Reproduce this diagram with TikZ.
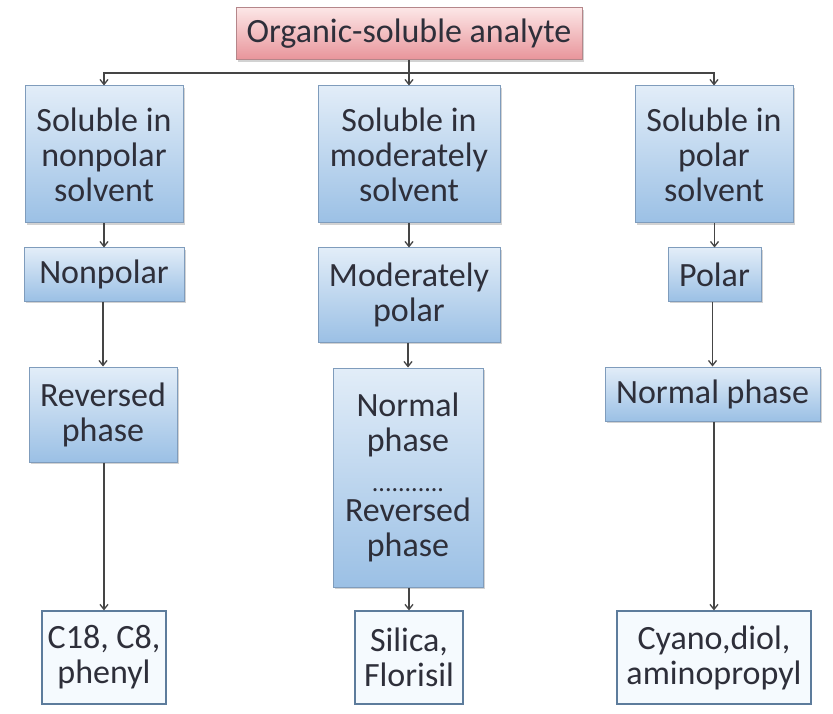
\documentclass[tikz,border=0pt]{standalone}
\usepackage{fontspec}
\setmainfont{Carlito}
\usetikzlibrary{arrows.meta,shadows}
\definecolor{txt}{HTML}{2E2F3A}
\definecolor{boxtop}{HTML}{E2EDF8}
\definecolor{boxbot}{HTML}{9BC0E5}
\definecolor{boxedge}{HTML}{7F9CBC}
\definecolor{pinktop}{HTML}{FCE6E6}
\definecolor{pinkbot}{HTML}{E8949A}
\definecolor{pinkedge}{HTML}{B5868A}
\definecolor{leafedge}{HTML}{5D7C9C}
\definecolor{leaffill}{HTML}{F5FAFE}
\definecolor{wire}{HTML}{454545}
\tikzset{
  base/.style={rectangle, inner sep=0pt, align=center, text=txt,
    font=\fontsize{34}{35}\selectfont, line width=1pt},
  bluebox/.style={base, draw=boxedge, top color=boxtop, bottom color=boxbot,
    drop shadow={opacity=0.35, shadow xshift=2pt, shadow yshift=-2pt}},
  pinkbox/.style={base, draw=pinkedge, top color=pinktop, bottom color=pinkbot,
    drop shadow={opacity=0.35, shadow xshift=2pt, shadow yshift=-2pt}},
  leafbox/.style={base, draw=leafedge, fill=leaffill, line width=1.2pt},
  sz/.style 2 args={minimum width=#1pt, minimum height=#2pt},
  link/.style={draw=wire, line width=1.3pt, -{Straight Barb[length=5pt,width=8pt]}},
}
\newcommand{\dotrule}{{\fontsize{26}{26}\selectfont ...........}}
\begin{document}
\begin{tikzpicture}[x=1pt,y=-1pt]
\useasboundingbox[fill=white] (0,0) rectangle (833,714);

% root
\node[pinkbox, sz={346}{52}] (root) at (409,34) {Organic-soluble analyte};

% first row: solubility
\node[bluebox, sz={158}{137}] (L1) at (104,154.5) {Soluble in\\nonpolar\\solvent};
\node[bluebox, sz={182}{137}] (M1) at (409,154.5) {Soluble in\\moderately\\solvent};
\node[bluebox, sz={158}{137}] (R1) at (714,154.5) {Soluble in\\polar\\solvent};

% second row: sorbent polarity
\node[bluebox, sz={160}{53}] (L2) at (104,274.5) {Nonpolar};
\node[bluebox, sz={182}{94}] (M2) at (409,295) {Moderately\\polar};
\node[bluebox, sz={93}{53}] (R2) at (714.5,274.5) {Polar};

% third row: mode
\node[bluebox, sz={150}{219}] (M3) at (408,477.5)
  {Normal\\phase\\[5pt]\dotrule\\[-5pt]Reversed\\phase};
\node[bluebox, sz={148}{95}] (L3) at (103,414.5) {Reversed\\phase};
\node[bluebox, sz={215}{54}] (R3) at (712.5,394) {Normal phase};

% sorbents
\node[leafbox, sz={124}{93}] (L4) at (104,657.5) {C18, C8,\\phenyl};
\node[leafbox, sz={108}{93}] (M4) at (409,657.5) {Silica,\\Florisil};
\node[leafbox, sz={194}{93}] (R4) at (714,657.5) {Cyano,diol,\\aminopropyl};

% distribution bus under the root
\coordinate (bus) at (root.south |- 0,73);
\draw[link] (root.south) -- (root.south |- M1.north);
\draw[link] (bus) -| (L1.north);
\draw[link] (bus) -| (R1.north);

% column connectors
\foreach \a/\b in {L1/L2, L2/L3, L3/L4, M1/M2, M2/M3, M3/M4, R1/R2, R2/R3, R3/R4}
  \draw[link] (\a.south -| \b.north) -- (\b.north);
\end{tikzpicture}
\end{document}
